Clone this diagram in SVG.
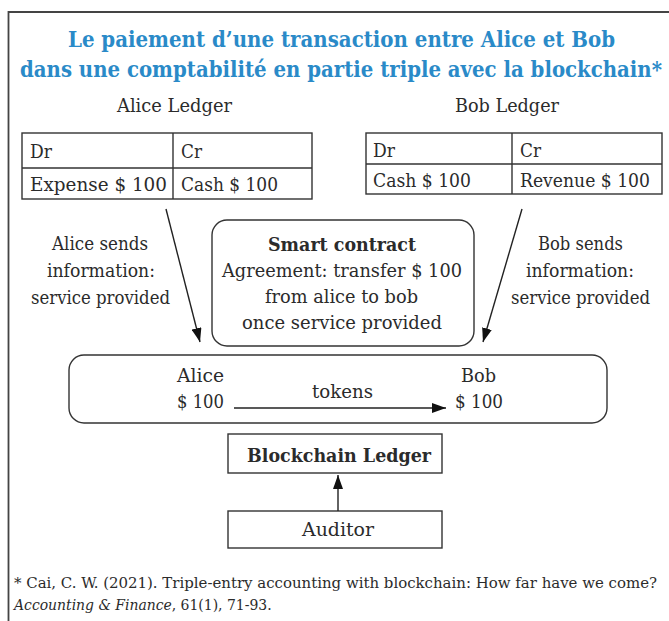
<svg xmlns="http://www.w3.org/2000/svg" width="669" height="621" viewBox="0 0 669 621">
<defs>
<style>
.t{font-family:"DejaVu Serif","Liberation Serif",serif;font-size:18px;fill:#2b2b2b;font-weight:300}
.b{font-weight:bold}
.title{font-family:"DejaVu Serif Condensed","DejaVu Serif","Liberation Serif",serif;font-stretch:condensed;font-size:22px;font-weight:bold;fill:#2a8ac8}
.fn{font-family:"DejaVu Serif Condensed","DejaVu Serif","Liberation Serif",serif;font-stretch:condensed;font-size:15.5px;fill:#2b2b2b}
.box{fill:none;stroke:#333;stroke-width:1.4}
.ln{fill:none;stroke:#222;stroke-width:1.4}
</style>
<marker id="ah" viewBox="0 0 14 10" refX="14" refY="5" markerWidth="14" markerHeight="10" markerUnits="userSpaceOnUse" orient="auto">
<path d="M0,0 L14,5 L0,10 Z" fill="#111"/>
</marker>
</defs>
<rect width="669" height="621" fill="#fff"/>
<path d="M669,12 H8.5 V621" fill="none" stroke="#444" stroke-width="1.8"/>

<g id="title">
<text class="title" x="341.5" y="47" text-anchor="middle" textLength="547" lengthAdjust="spacingAndGlyphs">Le paiement d’une transaction entre Alice et Bob</text>
<text class="title" x="341" y="77" text-anchor="middle" textLength="642" lengthAdjust="spacingAndGlyphs">dans une comptabilité en partie triple avec la blockchain*</text>
</g>

<g id="alice-ledger">
<text class="t" x="174.5" y="112" text-anchor="middle" textLength="115" lengthAdjust="spacingAndGlyphs">Alice Ledger</text>
<rect class="box" x="22" y="133" width="290" height="66"/>
<line class="box" x1="22" y1="168" x2="312" y2="168"/>
<line class="box" x1="173" y1="133" x2="173" y2="199"/>
<text class="t" x="30" y="158" textLength="22" lengthAdjust="spacingAndGlyphs">Dr</text>
<text class="t" x="181" y="158" textLength="21" lengthAdjust="spacingAndGlyphs">Cr</text>
<text class="t" x="30" y="191" textLength="137" lengthAdjust="spacingAndGlyphs">Expense $ 100</text>
<text class="t" x="181" y="191" textLength="97" lengthAdjust="spacingAndGlyphs">Cash $ 100</text>
</g>

<g id="bob-ledger">
<text class="t" x="507" y="112" text-anchor="middle" textLength="104" lengthAdjust="spacingAndGlyphs">Bob Ledger</text>
<rect class="box" x="366" y="133" width="296" height="61"/>
<line class="box" x1="366" y1="164" x2="662" y2="164"/>
<line class="box" x1="512" y1="133" x2="512" y2="194"/>
<text class="t" x="373" y="157" textLength="22" lengthAdjust="spacingAndGlyphs">Dr</text>
<text class="t" x="520" y="157" textLength="21" lengthAdjust="spacingAndGlyphs">Cr</text>
<text class="t" x="373" y="187" textLength="98" lengthAdjust="spacingAndGlyphs">Cash $ 100</text>
<text class="t" x="520" y="187" textLength="130" lengthAdjust="spacingAndGlyphs">Revenue $ 100</text>
</g>

<g id="alice-sends">
<text class="t" x="100" y="250" text-anchor="middle" textLength="96" lengthAdjust="spacingAndGlyphs">Alice sends</text>
<text class="t" x="101" y="277" text-anchor="middle" textLength="108" lengthAdjust="spacingAndGlyphs">information:</text>
<text class="t" x="100.5" y="304" text-anchor="middle" textLength="139" lengthAdjust="spacingAndGlyphs">service provided</text>
</g>

<g id="bob-sends">
<text class="t" x="580.5" y="250" text-anchor="middle" textLength="85" lengthAdjust="spacingAndGlyphs">Bob sends</text>
<text class="t" x="580" y="277" text-anchor="middle" textLength="108" lengthAdjust="spacingAndGlyphs">information:</text>
<text class="t" x="580.5" y="304" text-anchor="middle" textLength="139" lengthAdjust="spacingAndGlyphs">service provided</text>
</g>

<g id="smart-contract">
<rect class="box" x="212" y="220" width="262" height="126" rx="15"/>
<text class="t b" x="342" y="251" text-anchor="middle" textLength="148" lengthAdjust="spacingAndGlyphs">Smart contract</text>
<text class="t" x="342" y="277" text-anchor="middle" textLength="240" lengthAdjust="spacingAndGlyphs">Agreement: transfer $ 100</text>
<text class="t" x="341.5" y="303" text-anchor="middle" textLength="153" lengthAdjust="spacingAndGlyphs">from alice to bob</text>
<text class="t" x="342" y="329" text-anchor="middle" textLength="200" lengthAdjust="spacingAndGlyphs">once service provided</text>
</g>

<g id="blockchain">
<rect class="box" x="69" y="355" width="538" height="68" rx="15"/>
<text class="t" x="200.5" y="382" text-anchor="middle" textLength="47" lengthAdjust="spacingAndGlyphs">Alice</text>
<text class="t" x="200.5" y="408" text-anchor="middle" textLength="47" lengthAdjust="spacingAndGlyphs">$ 100</text>
<text class="t" x="342.5" y="398" text-anchor="middle" textLength="61" lengthAdjust="spacingAndGlyphs">tokens</text>
<text class="t" x="478.5" y="382" text-anchor="middle" textLength="35" lengthAdjust="spacingAndGlyphs">Bob</text>
<text class="t" x="479" y="408" text-anchor="middle" textLength="48" lengthAdjust="spacingAndGlyphs">$ 100</text>
</g>

<g id="blockchain-ledger">
<rect class="box" x="228" y="434" width="214" height="39"/>
<text class="t b" x="339" y="462" text-anchor="middle" textLength="184" lengthAdjust="spacingAndGlyphs">Blockchain Ledger</text>
</g>

<g id="auditor">
<rect class="box" x="228" y="511" width="214" height="37"/>
<text class="t" x="338" y="536" text-anchor="middle" textLength="72" lengthAdjust="spacingAndGlyphs">Auditor</text>
</g>

<g id="connectors">
<line class="ln" x1="166" y1="209" x2="200" y2="342" marker-end="url(#ah)"/>
<line class="ln" x1="522" y1="209" x2="483" y2="342" marker-end="url(#ah)"/>
<line class="ln" x1="234" y1="408" x2="446" y2="408" marker-end="url(#ah)"/>
<line class="ln" x1="338" y1="511" x2="338" y2="475" marker-end="url(#ah)"/>
</g>

<g id="footnote">
<text class="fn" x="14" y="588" textLength="643" lengthAdjust="spacingAndGlyphs">* Cai, C. W. (2021). Triple-entry accounting with blockchain: How far have we come?</text>
<text class="fn" x="14" y="610"><tspan font-style="italic">Accounting &amp; Finance</tspan>, 61(1), 71-93.</text>
</g>
</svg>
